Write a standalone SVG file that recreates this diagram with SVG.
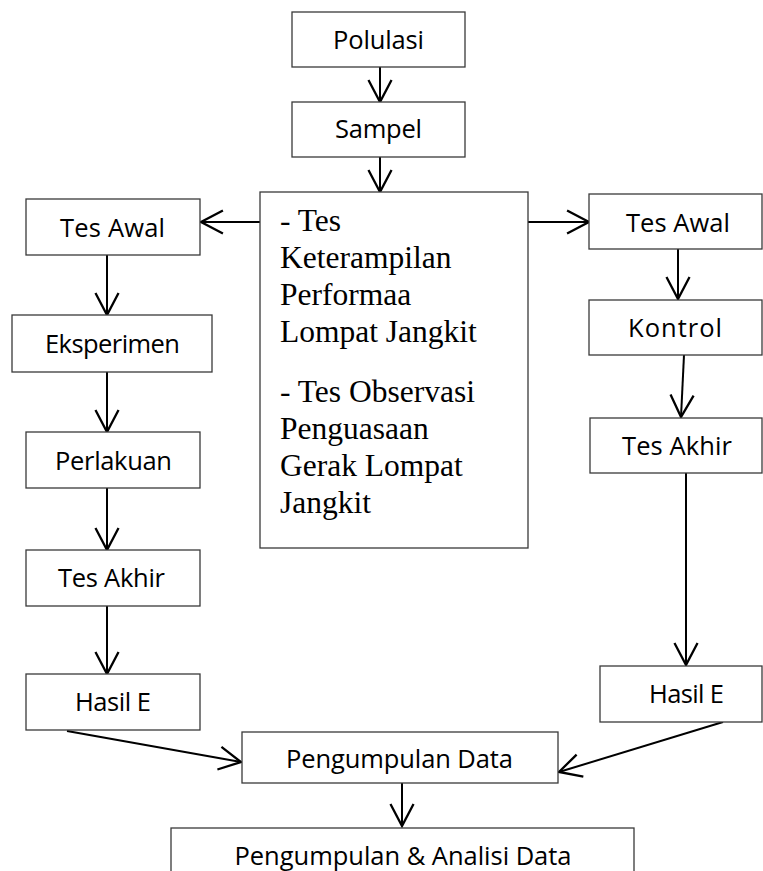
<svg xmlns="http://www.w3.org/2000/svg" width="763" height="871" viewBox="0 0 763 871">
<defs>
<marker id="ah" markerUnits="userSpaceOnUse" markerWidth="30" markerHeight="30" viewBox="-22 -13 26 26" refX="0" refY="0" orient="auto">
<path d="M -19 -10 L 0 0 L -19 10" fill="none" stroke="#000" stroke-width="2"/>
</marker>
<style>
.box{fill:#fff;stroke:#3a3a3a;stroke-width:1.3}
.lbl{font-family:"Open Sans","Noto Sans","Liberation Sans",sans-serif;font-size:25.5px;fill:#000;text-anchor:middle}
.ser{font-family:"Liberation Serif","Times New Roman",serif;font-size:31.5px;fill:#000}
.con{stroke:#000;stroke-width:2;fill:none;marker-end:url(#ah)}
</style>
</defs>
<rect width="763" height="871" fill="#fff"/>
<g id="connectors">
<line class="con" x1="380" y1="67" x2="380" y2="102"/>
<line class="con" x1="380" y1="157" x2="380" y2="192"/>
<line class="con" x1="260" y1="222" x2="201" y2="222"/>
<line class="con" x1="528" y1="222" x2="589" y2="222"/>
<line class="con" x1="107" y1="255" x2="107" y2="315"/>
<line class="con" x1="107" y1="372" x2="107" y2="432"/>
<line class="con" x1="107" y1="488" x2="107" y2="550"/>
<line class="con" x1="107" y1="606" x2="107" y2="674"/>
<line class="con" x1="678" y1="240" x2="678" y2="299"/>
<line class="con" x1="684" y1="355" x2="681" y2="417"/>
<line class="con" x1="686" y1="473" x2="686" y2="665"/>
<line class="con" x1="67" y1="731" x2="241" y2="762"/>
<line class="con" x1="723" y1="722" x2="559" y2="772"/>
<line class="con" x1="402" y1="783" x2="402" y2="826"/>
</g>
<g id="polulasi"><rect class="box" x="292" y="12" width="173" height="55"/><text class="lbl" x="378.5" y="49" textLength="91">Polulasi</text></g>
<g id="sampel"><rect class="box" x="292" y="102" width="173" height="55"/><text class="lbl" x="378.5" y="138" textLength="87">Sampel</text></g>
<g id="tes-box"><rect class="box" x="260" y="192" width="268" height="356"/>
<text class="ser" x="280" y="231">- Tes</text>
<text class="ser" x="280" y="268">Keterampilan</text>
<text class="ser" x="280" y="305">Performaa</text>
<text class="ser" x="280" y="342">Lompat Jangkit</text>
<text class="ser" x="280" y="402">- Tes Observasi</text>
<text class="ser" x="280" y="439">Penguasaan</text>
<text class="ser" x="280" y="476">Gerak Lompat</text>
<text class="ser" x="280" y="513">Jangkit</text>
</g>
<g id="tes-awal-l"><rect class="box" x="26" y="199" width="174" height="56"/><text class="lbl" x="112.5" y="237" textLength="105">Tes Awal</text></g>
<g id="eksperimen"><rect class="box" x="12" y="315" width="200" height="57"/><text class="lbl" x="112.5" y="353" textLength="135">Eksperimen</text></g>
<g id="perlakuan"><rect class="box" x="26" y="432" width="174" height="56"/><text class="lbl" x="113.5" y="470" textLength="117">Perlakuan</text></g>
<g id="tes-akhir-l"><rect class="box" x="26" y="550" width="174" height="56"/><text class="lbl" x="111.5" y="587" textLength="107">Tes Akhir</text></g>
<g id="hasil-e-l"><rect class="box" x="26" y="674" width="174" height="56"/><text class="lbl" x="113" y="711" textLength="76">Hasil E</text></g>
<g id="tes-awal-r"><rect class="box" x="589" y="194" width="173" height="55"/><text class="lbl" x="678" y="232" textLength="104">Tes Awal</text></g>
<g id="kontrol"><rect class="box" x="589" y="300" width="173" height="55"/><text class="lbl" x="675" y="337" textLength="94">Kontrol</text></g>
<g id="tes-akhir-r"><rect class="box" x="590" y="418" width="172" height="55"/><text class="lbl" x="677" y="455" textLength="110">Tes Akhir</text></g>
<g id="hasil-e-r"><rect class="box" x="600" y="666" width="162" height="56"/><text class="lbl" x="686.5" y="703" textLength="75">Hasil E</text></g>
<g id="pengumpulan"><rect class="box" x="242" y="732" width="316" height="51"/><text class="lbl" x="399.5" y="768" textLength="227">Pengumpulan Data</text></g>
<g id="analisis"><rect class="box" x="171" y="828" width="463" height="60"/><text class="lbl" x="403" y="865" textLength="337">Pengumpulan &amp; Analisi Data</text></g>
</svg>
